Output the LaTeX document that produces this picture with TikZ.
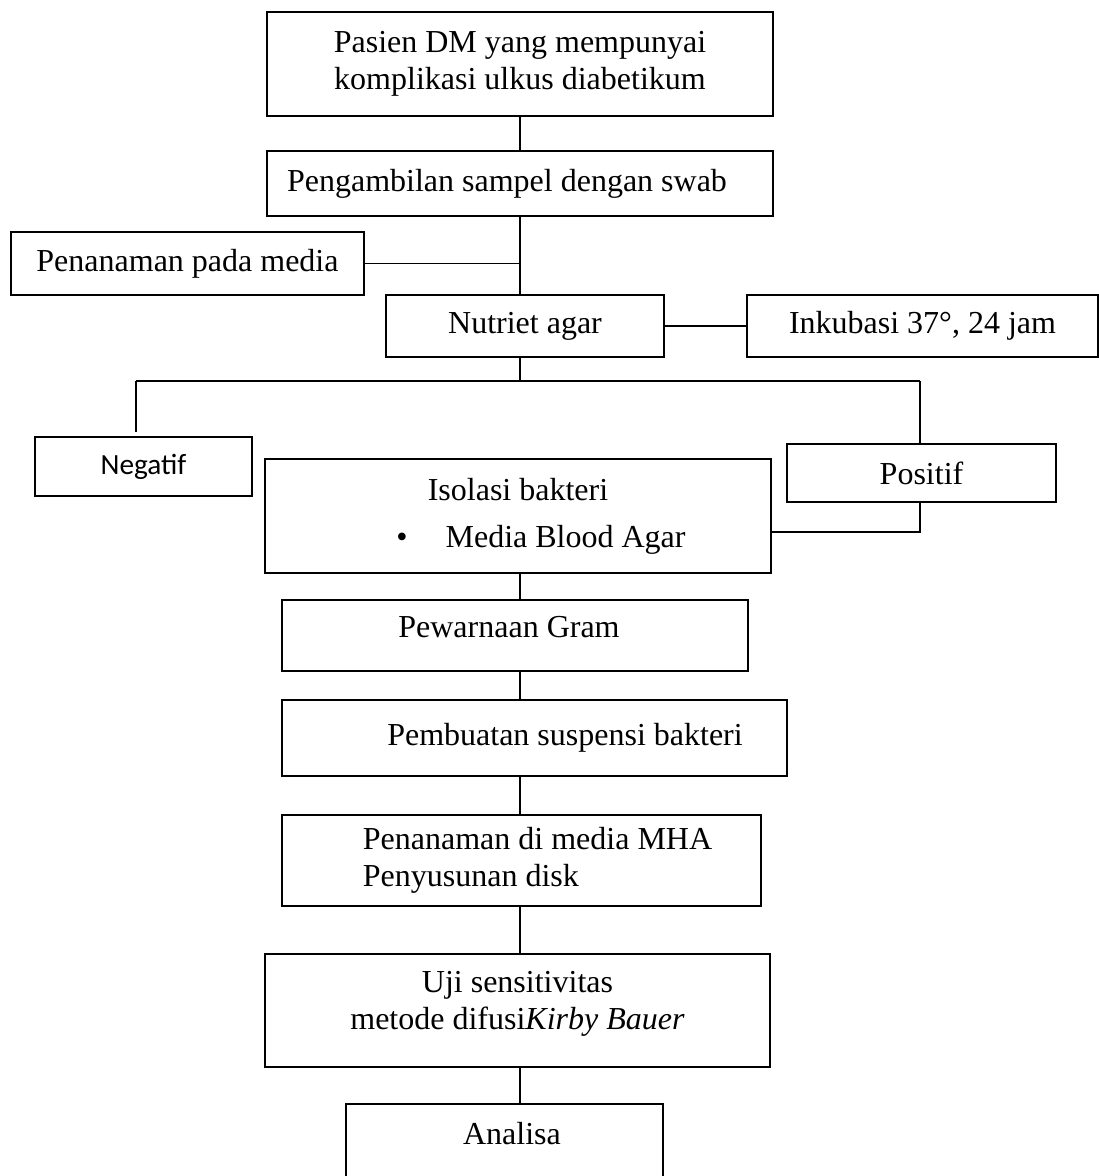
\documentclass[tikz,border=0pt]{standalone}
\usepackage{fontspec}
\setmainfont{Liberation Serif}
\newfontfamily\calibri{Carlito}

\tikzset{
  stepbox/.style={draw, line width=1.8pt, inner sep=0pt, align=center,
    font=\fontsize{32}{37}\selectfont},
  link/.style={draw, line width=1.5pt}
}

\begin{document}
\begin{tikzpicture}[x=1pt, y=-1pt]

        \useasboundingbox (0,0) rectangle (1099,1176);
        \clip (0,0) rectangle (1099,1176);

        \begin{scope}[every node/.style={stepbox}]
          \node[minimum width=506, minimum height=104] (pasien)    at (520,64)     {Pasien DM yang mempunyai\\komplikasi ulkus diabetikum};
          \node[minimum width=506, minimum height=65]  (sampel)    at (520,183.5)  {Pengambilan sampel dengan swab\hspace*{26pt}};
          \node[minimum width=353, minimum height=63]  (penanaman) at (187.5,263.5) {Penanaman pada media};
          \node[minimum width=278, minimum height=62]  (nutriet)   at (525,326)    {Nutriet agar};
          \node[minimum width=351, minimum height=62]  (inkubasi)  at (922.5,326)  {Inkubasi 37°, 24 jam};
          \node[minimum width=217, minimum height=59,
                font=\calibri\fontsize{29.3}{35}\selectfont] (negatif) at (143.5,466.5) {Negatif};
          \node[minimum width=269, minimum height=58]  (positif)   at (921.5,473)  {Positif};
          \node[minimum width=506, minimum height=114] (isolasi)   at (518,516)
               {Isolasi bakteri\\[10pt]\hspace*{46pt}•\hspace{38pt}Media Blood Agar};
          \node[minimum width=466, minimum height=71, text depth=18pt] (gram) at (515,635.5) {Pewarnaan Gram\hspace*{12pt}};
          \node[minimum width=505, minimum height=76]  (suspensi)  at (534.5,738)  {\hspace*{61pt}Pembuatan suspensi bakteri};
          \node[minimum width=479, minimum height=91, align=left] (mha) at (521.5,860.5)
               {\hspace*{32pt}Penanaman di media MHA\\\hspace*{32pt}Penyusunan disk};
          \node[minimum width=505, minimum height=113, text depth=20pt] (uji) at (517.5,1010.5)
               {Uji sensitivitas\\metode difusi\textit{Kirby Bauer}};
          \node[minimum width=317, anchor=north, text height=41pt, text depth=50pt] (analisa) at (504.5,1103)
               {\hspace*{15pt}Analisa};
        \end{scope}

        % trunk and branch points
        \coordinate (axis)    at (520,0);
        \coordinate (branchL) at (136,381);
        \coordinate (branchR) at (920,381);
        \coordinate (negend)  at (136,432);
        \coordinate (posturn) at (920,532);

        \begin{scope}[every edge/.style={link}]
          \path (pasien.south -| axis)   edge (sampel.north -| axis);
          \path (sampel.south -| axis)   edge (nutriet.north -| axis);
          \path (penanaman.east)         edge (penanaman.east -| axis);
          \path (nutriet.east)           edge (inkubasi.west);
          \path (nutriet.south -| axis)  edge (branchL -| axis);
          \path (branchL)                edge (branchR);
          \path (branchL)                edge (negend);
          \path (branchR)                edge (positif.north -| branchR);
          \path (isolasi.south -| axis)  edge (gram.north -| axis);
          \path (gram.south -| axis)     edge (suspensi.north -| axis);
          \path (suspensi.south -| axis) edge (mha.north -| axis);
          \path (mha.south -| axis)      edge (uji.north -| axis);
          \path (uji.south -| axis)      edge (analisa.north -| axis);
        \end{scope}
        \draw[link] (positif.south -| branchR) -- (posturn) -- (posturn -| isolasi.east);

      \end{tikzpicture}
\end{document}
